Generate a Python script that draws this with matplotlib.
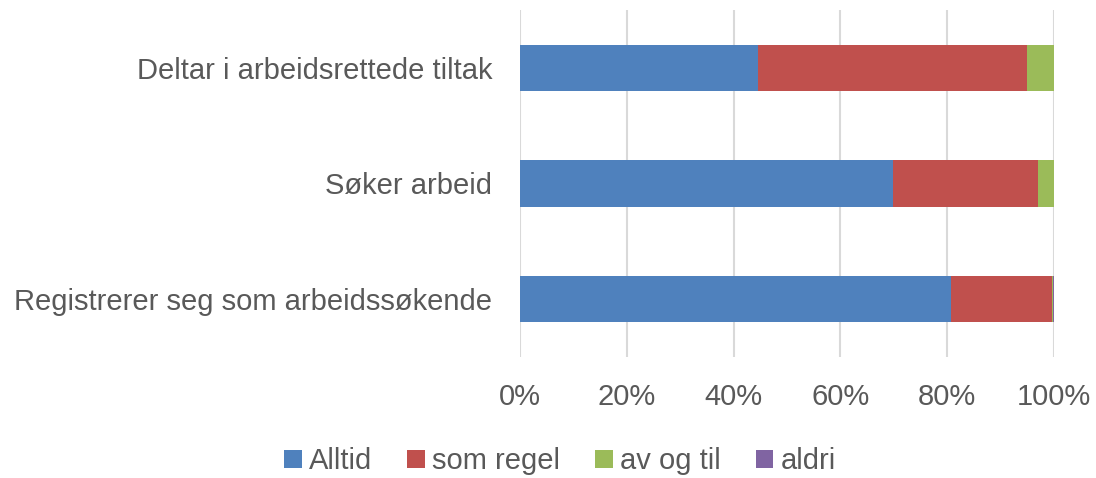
import numpy as np
import matplotlib.pyplot as plt

plt.rcParams['font.family'] = ['Liberation Sans', 'DejaVu Sans']

categories = ['Registrerer seg som arbeidssøkende', 'Søker arbeid', 'Deltar i arbeidsrettede tiltak']
alltid = [80.7, 69.9, 44.5]
som_regel = [18.9, 27.1, 50.4]
av_og_til = [0.3, 3.0, 5.1]
aldri = [0.1, 0.0, 0.0]

series = [('Alltid', alltid, '#4f81bd'),
          ('som regel', som_regel, '#c0504d'),
          ('av og til', av_og_til, '#9bbb59'),
          ('aldri', aldri, '#8064a2')]

fig = plt.figure(figsize=(10.96, 4.78), dpi=100)
ax = fig.add_axes([0.4745, 0.2537, 0.4872, 0.725])

y = np.arange(len(categories))
left = np.zeros(len(categories))
for name, vals, col in series:
    ax.barh(y, vals, left=left, height=0.4, color=col, label=name, zorder=3)
    left += np.array(vals)

ax.set_xlim(0, 100)
ax.set_ylim(-0.5, 2.5)
ax.set_xticks(np.arange(0, 101, 20))
ax.set_xticklabels(['%d%%' % v for v in range(0, 101, 20)])
ax.set_yticks(y)
ax.set_yticklabels(categories)
ax.grid(axis='x', color='#d9d9d9', linewidth=1.5, zorder=0)
for s in ax.spines.values():
    s.set_visible(False)
ax.tick_params(length=0, labelsize=21, colors='#595959')
ax.tick_params(axis='x', pad=19)
ax.tick_params(axis='y', pad=20)

fig.legend(loc='center', bbox_to_anchor=(0.511, 0.035), ncol=4, frameon=False,
           fontsize=21, labelcolor='#595959', handlelength=0.6, handleheight=0.6,
           handletextpad=0.25, columnspacing=1.2)

fig.savefig('out.png', dpi=100)
